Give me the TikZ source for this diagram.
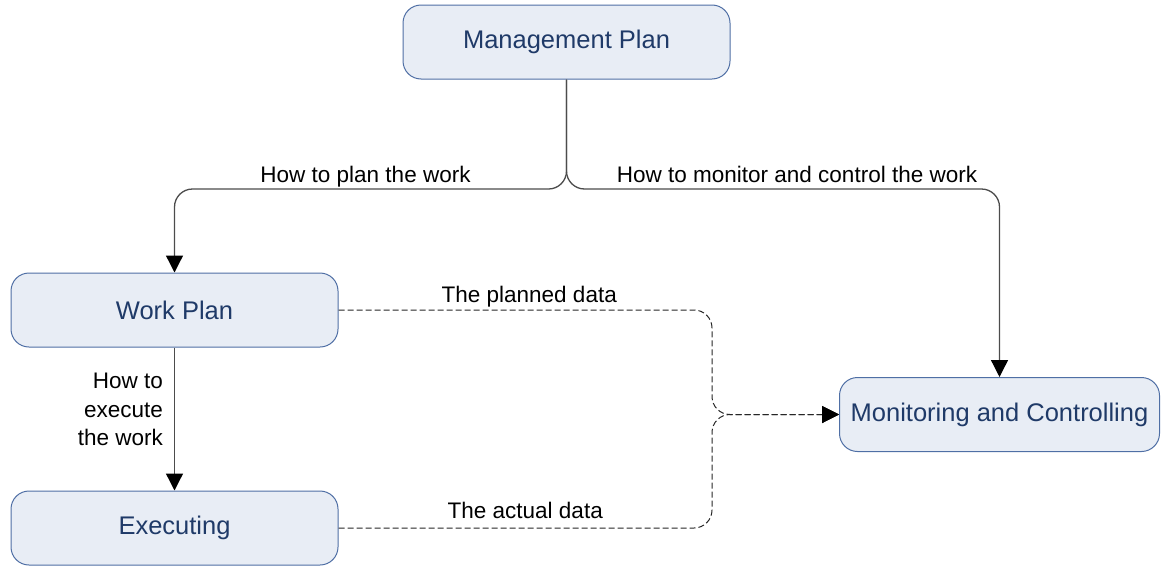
\documentclass[tikz,border=0pt]{standalone}
\usepackage{fontspec}
\setmainfont{Liberation Sans}
\usetikzlibrary{arrows.meta}
\definecolor{boxfill}{HTML}{E8EDF5}
\definecolor{boxline}{HTML}{4F6FA5}
\definecolor{boxtext}{HTML}{1F3A68}
\tikzset{
  phase/.style={draw=boxline, fill=boxfill, line width=1pt, rounded corners=18pt,
    minimum width=327pt, minimum height=74pt, inner sep=0pt,
    text=boxtext, font=\fontsize{25.5}{30}\selectfont},
  flow/.style={draw=black!70, line width=1.3pt, rounded corners=18pt,
    -{Triangle[length=17pt,width=17pt,black]}},
  dataflow/.style={flow, draw=black!85, line width=1pt, dash pattern=on 6pt off 3pt},
  lbl/.style={font=\fontsize{22.5}{28.5}\selectfont, inner sep=3pt, text depth=0.25em}
}
\begin{document}
\begin{tikzpicture}[x=1pt,y=-1pt]
    \useasboundingbox (0,0) rectangle (1161,565);

    \node[phase] (mgmt) at (566.5,42) {Management Plan};
    \node[phase] (work) at (174.5,310) {Work Plan};
    \node[phase] (exec) at (174.5,528) {Executing};
    \node[phase, minimum width=320pt] (monitor) at (999.5,414.5) {Monitoring and Controlling};

    \coordinate (split) at (566.5,189);
    \coordinate (join) at (712,414.5);

    % plan branches
    \draw[flow] (mgmt.south) -- (split)
      -- node[lbl, above, xshift=-5pt] {How to plan the work} (work.north |- split) -- (work.north);
    \draw[flow] (mgmt.south) -- (split)
      -- node[lbl, above, xshift=14pt] {How to monitor and control the work} (monitor.north |- split) -- (monitor.north);
    \draw[flow] (work.south) -- (exec.north)
      node[lbl, midway, left, align=right, xshift=-8pt, yshift=8pt] {How to\\execute\\the work};

    % data to monitoring
    \draw[dataflow] (work.east)
      -- node[lbl, above, xshift=4pt, yshift=2pt] {The planned data} (work.east -| join) -- (join) -- (monitor.west);
    \draw[dataflow] (exec.east)
      -- node[lbl, above, yshift=4pt] {The actual data} (exec.east -| join) -- (join) -- (monitor.west);
\end{tikzpicture}
\end{document}
